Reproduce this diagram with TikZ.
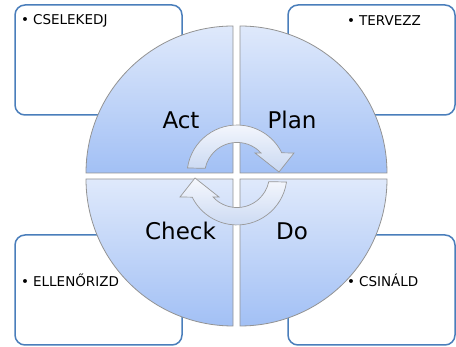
\documentclass[tikz,border=0pt]{standalone}
\usepackage{fontspec}
\setmainfont{DejaVu Sans}
\usetikzlibrary{positioning}
\definecolor{boxblue}{HTML}{4A7EBB}
\definecolor{quadtop}{HTML}{DFE9FB}
\definecolor{quadbot}{HTML}{A2C0F5}
\definecolor{arrtop}{HTML}{F6F8FD}
\definecolor{arrbot}{HTML}{C9D8F2}

\begin{document}
\begin{tikzpicture}[x=1pt,y=1pt,
      box_st/.style={
         draw=boxblue,
         line width=1.5pt,
         rounded corners=10pt,
         fill=white},
      quad_st/.style={
         draw=gray!85,
         line width=0.8pt,
         top color=quadtop,
         bottom color=quadbot},
      cyc_arrow/.style={
         draw=gray!80,
         line width=0.7pt,
         top color=arrtop,
         bottom color=arrbot},
      label_big/.style={
         anchor=base,
         inner sep=0pt,
         font=\fontsize{23}{26}\selectfont},
      item_txt/.style={
         anchor=west,
         inner sep=0pt,
         font=\fontsize{13.5}{16}\selectfont},
]
      \useasboundingbox (0,0) rectangle (456,347);

      %boxes behind the circle
      \foreach \x/\y in {15/232, 288/232, 15/2, 288/2}
        \draw[box_st] (\x,\y) rectangle ++(167,110);

      %four quarters
      \foreach \cx/\cy/\a in {% corner x/corner y/start angle
        233/174/90,
        240/174/0,
        233/168/180,
        240/168/270}
        \draw[quad_st] (\cx,\cy) -- ++(\a:147)
          arc[start angle=\a, delta angle=90, radius=147] -- cycle;

      %circular arrows
      \begin{scope}[shift={(237,172)}]
        \foreach \r in {0,180}
          \draw[cyc_arrow, rotate=\r] (-49.5,7)
            arc[start angle=171.9, end angle=26.4, radius=50]
            -- (57,22) -- (42,3) -- (18,22) -- (24,22)
            arc[start angle=42.5, end angle=168.2, radius=32.5] -- cycle;
      \end{scope}

      \node[label_big] (act) at (181,218) {Act};
      \node[label_big] (plan) at (292,218) {Plan};
      \node[label_big] (check) at (180.5,107) {Check};
      \node[label_big] (do) at (292,107) {Do};

      \node[item_txt] (cselekedj) at (21,326) {•\hspace{4pt}CSELEKEDJ};
      \node[item_txt] (tervezz) at (347,326) {•\hspace{4pt}TERVEZZ};
      \node[item_txt] (ellenorizd) at (21,67) {•\hspace{4pt}ELLENŐRIZD};
      \node[item_txt] (csinald) at (347,67) {•\hspace{4pt}CSINÁLD};

\end{tikzpicture}
\end{document}
